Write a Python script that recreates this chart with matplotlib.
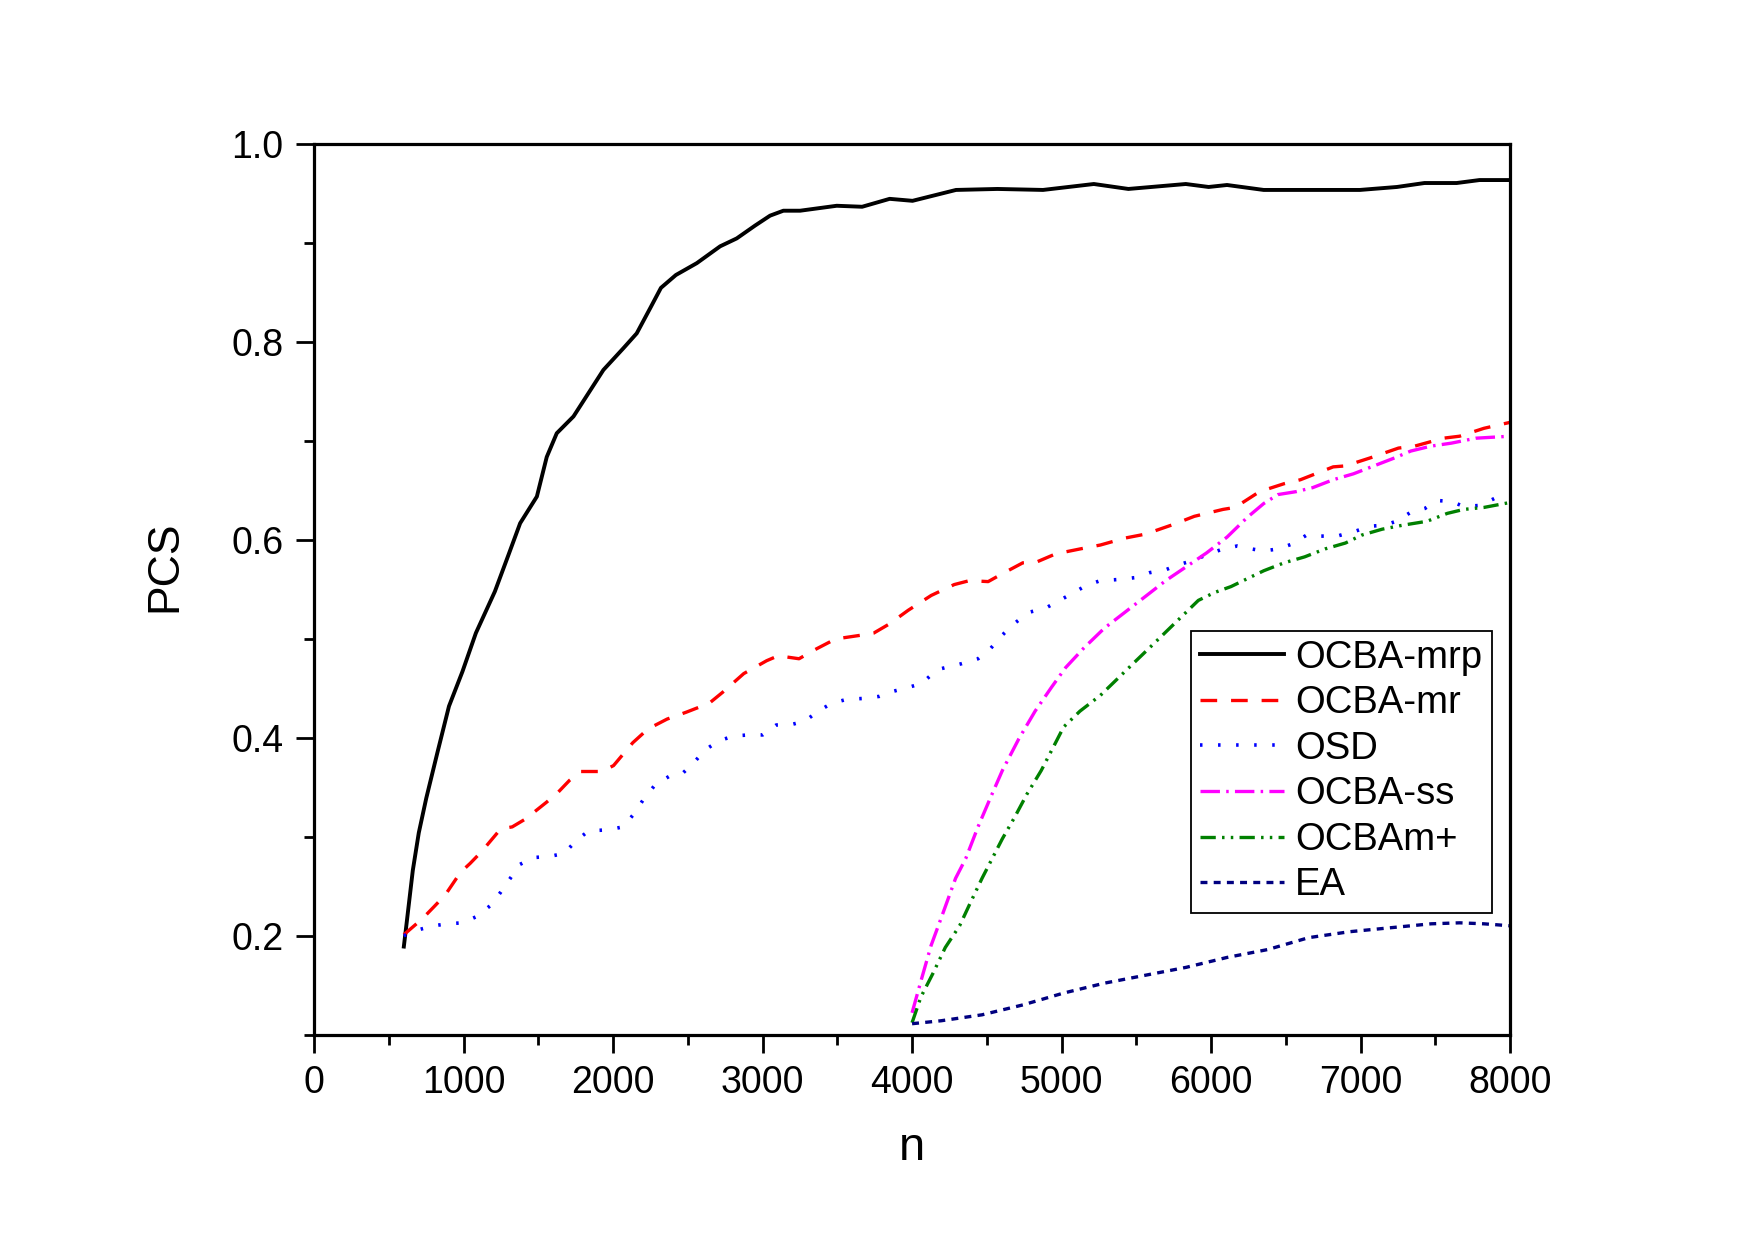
import matplotlib
matplotlib.use('Agg')
import matplotlib.pyplot as plt

plt.rcParams['font.family'] = ['Liberation Sans', 'DejaVu Sans']
plt.rcParams['lines.scale_dashes'] = False

# OCBA-mrp (black solid)
mrp_n = [600, 615, 660, 700, 750, 826, 902, 992, 1082, 1209, 1300, 1378, 1490, 1556, 1623, 1735,
         1935, 2069, 2158, 2250, 2320, 2420, 2560, 2716, 2827, 2950, 3050, 3139, 3251, 3496, 3666, 3850, 4003,
         4294, 4571, 4876, 5216, 5447, 5831, 5984, 6107, 6352, 6689, 6996, 7244, 7428, 7643, 7796, 8000]
mrp_v = [0.189, 0.208, 0.266, 0.304, 0.339, 0.386, 0.432, 0.467, 0.506, 0.548, 0.585, 0.617, 0.644,
         0.684, 0.708, 0.725, 0.772, 0.794, 0.809, 0.835, 0.855, 0.868, 0.880, 0.897, 0.905, 0.918, 0.928, 0.933,
         0.933, 0.938, 0.937, 0.945, 0.943, 0.954, 0.955, 0.954, 0.960, 0.955, 0.960, 0.957, 0.959,
         0.954, 0.954, 0.954, 0.957, 0.961, 0.961, 0.964, 0.964]

# OCBA-mr (red dash)
mr_n = [600, 723, 800, 876, 979, 1043, 1120, 1248, 1325, 1414, 1555, 1632, 1708, 1785, 1926, 2003,
        2131, 2233, 2361, 2490, 2643, 2732, 2874, 3027, 3104, 3244, 3335, 3488, 3667, 3744, 3846,
        3974, 4128, 4282, 4384, 4509, 4604, 4741, 4836, 4960, 5123, 5260, 5424, 5561, 5752, 5888,
        6080, 6161, 6325, 6489, 6598, 6817, 6899, 7063, 7254, 7363, 7554, 7663, 7826, 8000]
mr_v = [0.201, 0.217, 0.229, 0.241, 0.264, 0.273, 0.285, 0.308, 0.310, 0.318, 0.335, 0.345, 0.357,
        0.366, 0.366, 0.372, 0.395, 0.409, 0.419, 0.426, 0.435, 0.446, 0.465, 0.478, 0.483, 0.480,
        0.488, 0.500, 0.504, 0.506, 0.515, 0.529, 0.544, 0.555, 0.559, 0.558, 0.566, 0.577, 0.578,
        0.586, 0.591, 0.595, 0.602, 0.606, 0.616, 0.624, 0.631, 0.633, 0.649, 0.657, 0.661, 0.674,
        0.675, 0.683, 0.693, 0.695, 0.703, 0.705, 0.713, 0.719]

# OSD (blue dot)
osd_n = [600, 698, 800, 890, 992, 1082, 1184, 1248, 1312, 1376, 1466, 1568, 1670, 1760, 1837, 1965,
         2067, 2144, 2208, 2284, 2374, 2464, 2540, 2617, 2707, 2809, 2912, 3001, 3091, 3181, 3283,
         3373, 3462, 3565, 3692, 3782, 3872, 3974, 4064, 4168, 4331, 4441, 4523, 4604, 4687, 4782,
         4891, 4987, 5083, 5164, 5260, 5369, 5492, 5588, 5697, 5779, 5874, 5970, 6080, 6175, 6271,
         6353, 6448, 6543, 6639, 6734, 6843, 6966, 7063, 7158, 7240, 7335, 7431, 7512, 7608, 7690,
         7799, 7895, 8000]
osd_v = [0.200, 0.206, 0.210, 0.212, 0.213, 0.219, 0.231, 0.244, 0.258, 0.272, 0.279, 0.280, 0.283,
         0.297, 0.306, 0.307, 0.310, 0.324, 0.339, 0.353, 0.361, 0.364, 0.375, 0.388, 0.397, 0.402,
         0.403, 0.403, 0.413, 0.413, 0.417, 0.427, 0.435, 0.439, 0.440, 0.442, 0.447, 0.451, 0.455,
         0.469, 0.475, 0.480, 0.490, 0.504, 0.516, 0.527, 0.531, 0.539, 0.547, 0.554, 0.559, 0.560,
         0.562, 0.567, 0.570, 0.575, 0.579, 0.585, 0.591, 0.594, 0.591, 0.589, 0.591, 0.596, 0.605,
         0.604, 0.604, 0.609, 0.614, 0.615, 0.619, 0.628, 0.632, 0.640, 0.639, 0.634, 0.635, 0.642,
         0.640]

# OCBA-ss (magenta dash dot)
ss_n = [4000, 4059, 4127, 4195, 4291, 4359, 4441, 4523, 4604, 4714, 4823, 4932, 5027, 5150, 5287,
        5424, 5561, 5697, 5834, 5970, 6107, 6243, 6353, 6448, 6571, 6680, 6817, 6953, 7090, 7227,
        7336, 7472, 7608, 7772, 8000]
ss_v = [0.122, 0.154, 0.190, 0.218, 0.258, 0.278, 0.310, 0.339, 0.367, 0.399, 0.427, 0.451, 0.471,
        0.491, 0.511, 0.527, 0.543, 0.559, 0.573, 0.587, 0.603, 0.623, 0.637, 0.646, 0.649, 0.653,
        0.661, 0.667, 0.675, 0.683, 0.690, 0.695, 0.698, 0.703, 0.705]

# OCBAm+ (green dash dot dot)
mp_n = [4000, 4059, 4140, 4222, 4318, 4386, 4468, 4536, 4604, 4687, 4768, 4864, 4946, 5014, 5123,
        5260, 5369, 5478, 5588, 5697, 5806, 5915, 6024, 6134, 6243, 6353, 6489, 6626, 6762, 6899,
        7008, 7145, 7281, 7445, 7581, 7691, 7826, 8000]
mp_v = [0.112, 0.138, 0.162, 0.188, 0.210, 0.232, 0.258, 0.278, 0.298, 0.320, 0.343, 0.367, 0.391,
        0.411, 0.427, 0.443, 0.459, 0.475, 0.491, 0.507, 0.523, 0.539, 0.547, 0.553, 0.561, 0.569,
        0.577, 0.583, 0.591, 0.597, 0.605, 0.611, 0.615, 0.619, 0.627, 0.631, 0.633, 0.638]

# EA (navy short dash)
ea_n = [4000, 4195, 4468, 4741, 5014, 5287, 5561, 5834, 6107, 6380, 6653, 6926, 7199, 7472, 7663,
        7826, 8000]
ea_v = [0.111, 0.114, 0.120, 0.130, 0.142, 0.152, 0.160, 0.168, 0.178, 0.186, 0.198, 0.204, 0.208,
        0.212, 0.213, 0.212, 0.210]

fig = plt.figure(figsize=(17.55, 12.42), dpi=100)
ax = fig.add_axes([0.179, 0.167, 0.6814, 0.7167])

ax.plot(mrp_n, mrp_v, color='black', lw=2.8, label='OCBA-mrp')
ax.plot(mr_n, mr_v, color='#ff0000', lw=2.4, linestyle=(0, (12, 10)), label='OCBA-mr')
ax.plot(osd_n, osd_v, color='#0000ff', lw=2.6, linestyle=(0, (1.8, 11.2)), label='OSD')
ax.plot(ss_n, ss_v, color='#ff00ff', lw=2.4, linestyle=(0, (14, 4.5, 1.8, 4.5)), label='OCBA-ss')
ax.plot(mp_n, mp_v, color='#008000', lw=2.4, linestyle=(0, (11, 4.5, 1.8, 4.5, 1.8, 4.5)), label='OCBAm+')
ax.plot(ea_n, ea_v, color='#000080', lw=2.4, linestyle=(0, (5, 4.5)), label='EA')

ax.set_xlim(0, 8000)
ax.set_ylim(0.1, 1.0)
ax.set_xticks(range(0, 8001, 1000))
ax.set_xticks(range(500, 8000, 1000), minor=True)
ax.set_yticks([0.2, 0.4, 0.6, 0.8, 1.0])
ax.set_yticklabels(['0.2', '0.4', '0.6', '0.8', '1.0'])
ax.set_yticks([0.1, 0.3, 0.5, 0.7, 0.9], minor=True)

for s in ax.spines.values():
    s.set_linewidth(2.3)
ax.tick_params(which='major', direction='out', length=13, width=2, labelsize=27, pad=9,
               top=False, right=False)
ax.tick_params(which='minor', direction='out', length=7, width=2, top=False, right=False)

ax.set_xlabel('n', fontsize=34)
ax.set_ylabel('PCS', fontsize=32)
ax.xaxis.set_label_coords(0.5, -0.103)
ax.yaxis.set_label_coords(-0.108, 0.526)

leg = ax.legend(loc='lower left', bbox_to_anchor=(0.733, 0.137), fontsize=27.5,
                frameon=True, fancybox=False, framealpha=1, edgecolor='black',
                handlelength=2.2, handletextpad=0.3, labelspacing=0.25, borderpad=0.24,
                borderaxespad=0)
leg.get_frame().set_linewidth(1.3)

plt.savefig('out.png', dpi=100)
